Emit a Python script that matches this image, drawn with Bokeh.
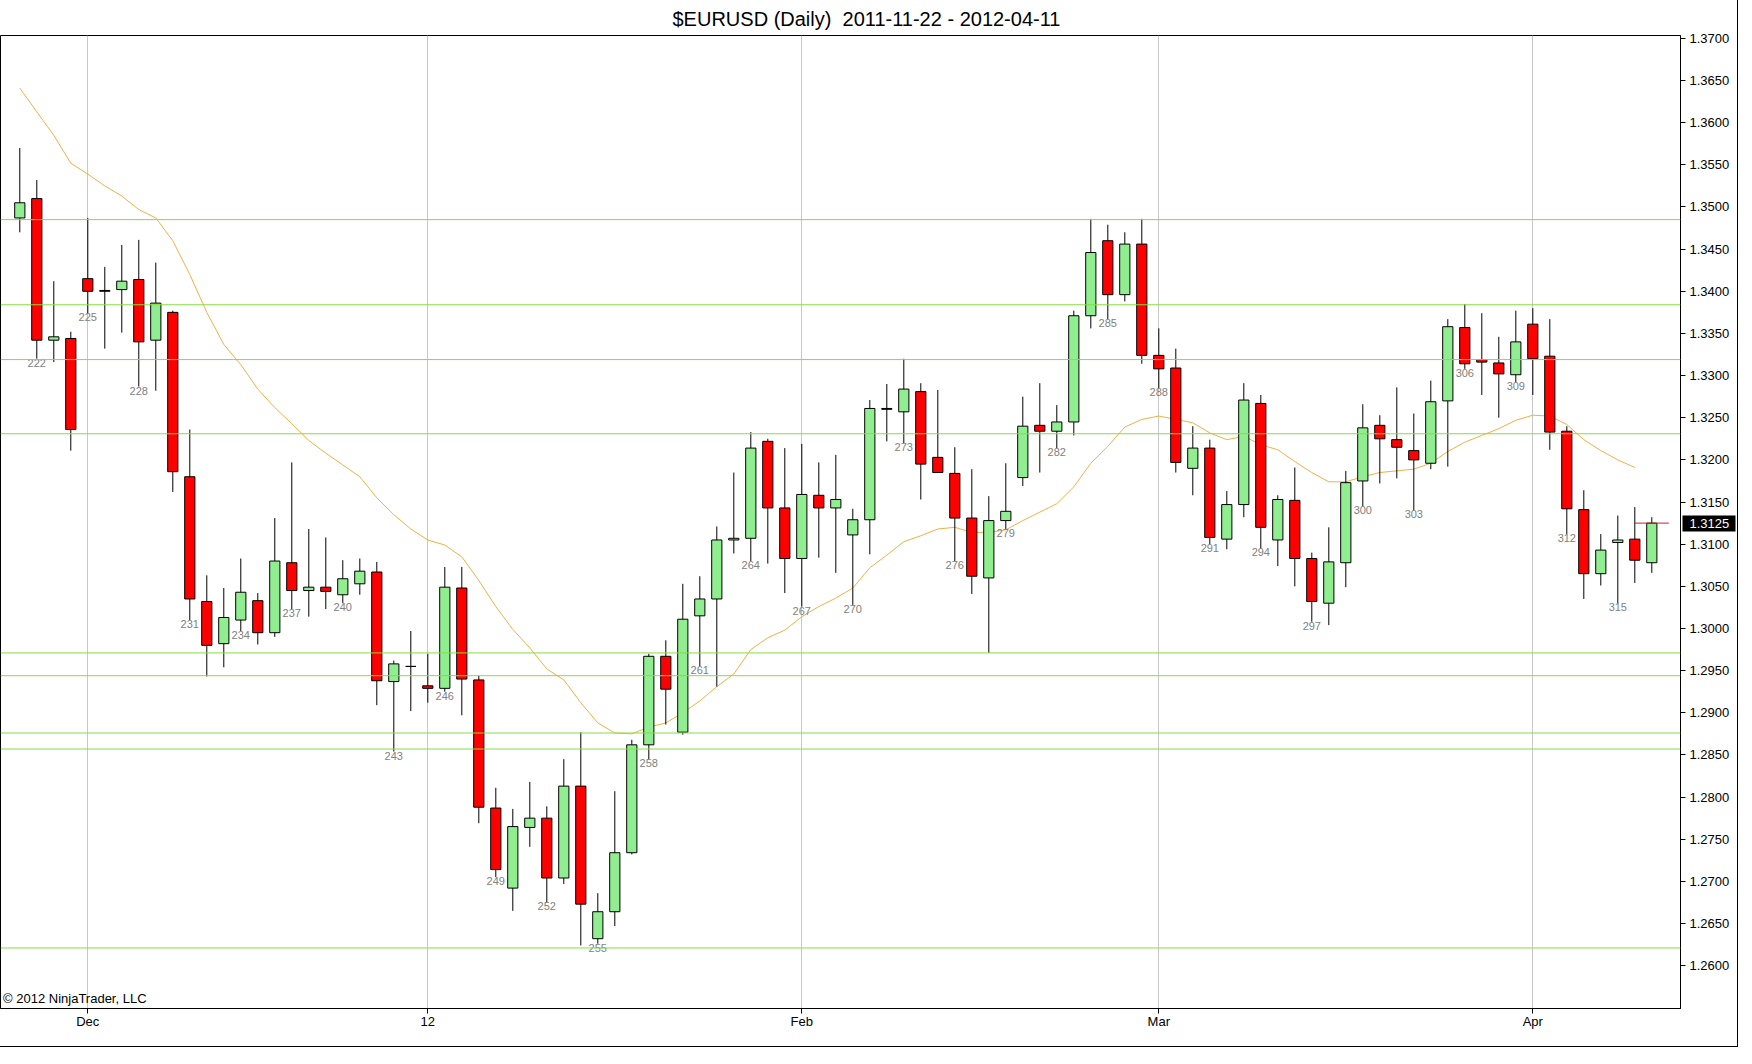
from bokeh.plotting import figure
from bokeh.embed import file_html
from bokeh.resources import INLINE
from bokeh.models import (ColumnDataSource, Range1d, FixedTicker, LinearAxis,
                          PrintfTickFormatter, Label, Span)
from bokeh.core.properties import value

# daily bars, numbered the way the chart numbers them
bar_numbers = list(range(221, 318))

opens = [1.3487, 1.3510, 1.3342, 1.3344, 1.3415, 1.3401, 1.3402, 1.3414, 1.3342, 1.3375,
         1.3180, 1.3032, 1.2982, 1.3010, 1.3033, 1.2995, 1.3078, 1.3045, 1.3049, 1.3040,
         1.3053, 1.3067, 1.2937, 1.2955, 1.2932, 1.2929, 1.3048, 1.2939, 1.2787, 1.2692,
         1.2764, 1.2775, 1.2704, 1.2813, 1.2632, 1.2664, 1.2734, 1.2862, 1.2967, 1.2877,
         1.3015, 1.3035, 1.3105, 1.3107, 1.3222, 1.3143, 1.3083, 1.3158, 1.3143, 1.3111,
         1.3129, 1.3261, 1.3257, 1.3281, 1.3203, 1.3184, 1.3131, 1.3060, 1.3128, 1.3179,
         1.3241, 1.3234, 1.3245, 1.3371, 1.3460, 1.3396, 1.3456, 1.3324, 1.3309, 1.3190,
         1.3214, 1.3106, 1.3147, 1.3267, 1.3105, 1.3152, 1.3083, 1.3030, 1.3078, 1.3175,
         1.3241, 1.3224, 1.3211, 1.3196, 1.3270, 1.3357, 1.3319, 1.3315, 1.3301, 1.3361,
         1.3323, 1.3234, 1.3141, 1.3065, 1.3102, 1.3106, 1.3078]
highs = [1.3570, 1.3532, 1.3412, 1.3352, 1.3487, 1.3429, 1.3455, 1.3461, 1.3434, 1.3377,
         1.3236, 1.3063, 1.3048, 1.3083, 1.3042, 1.3131, 1.3197, 1.3118, 1.3108, 1.3081,
         1.3083, 1.3079, 1.2962, 1.2997, 1.2970, 1.3073, 1.3073, 1.2944, 1.2811, 1.2786,
         1.2818, 1.2789, 1.2845, 1.2877, 1.2686, 1.2807, 1.2868, 1.2970, 1.2986, 1.3053,
         1.3062, 1.3121, 1.3185, 1.3233, 1.3225, 1.3214, 1.3219, 1.3197, 1.3206, 1.3142,
         1.3271, 1.3290, 1.3320, 1.3291, 1.3283, 1.3215, 1.3189, 1.3157, 1.3196, 1.3275,
         1.3291, 1.3265, 1.3377, 1.3486, 1.3479, 1.3470, 1.3486, 1.3356, 1.3332, 1.3240,
         1.3224, 1.3163, 1.3291, 1.3277, 1.3158, 1.3191, 1.3090, 1.3120, 1.3187, 1.3266,
         1.3253, 1.3286, 1.3255, 1.3294, 1.3367, 1.3385, 1.3374, 1.3346, 1.3377, 1.3380,
         1.3367, 1.3240, 1.3164, 1.3112, 1.3134, 1.3144, 1.3132]
lows = [1.3470, 1.3320, 1.3316, 1.3211, 1.3374, 1.3332, 1.3351, 1.3287, 1.3282, 1.3162,
        1.3010, 1.2943, 1.2954, 1.2997, 1.2981, 1.2990, 1.3023, 1.3014, 1.3023, 1.3030,
        1.3040, 1.2909, 1.2854, 1.2902, 1.2912, 1.2925, 1.2897, 1.2769, 1.2705, 1.2665,
        1.2741, 1.2675, 1.2697, 1.2624, 1.2626, 1.2647, 1.2732, 1.2845, 1.2886, 1.2874,
        1.2955, 1.2931, 1.3089, 1.3080, 1.3077, 1.3042, 1.3026, 1.3084, 1.3066, 1.3028,
        1.3088, 1.3222, 1.3220, 1.3153, 1.3185, 1.3080, 1.3041, 1.2971, 1.3118, 1.3169,
        1.3185, 1.3214, 1.3229, 1.3356, 1.3367, 1.3388, 1.3314, 1.3285, 1.3185, 1.3158,
        1.3100, 1.3094, 1.3132, 1.3095, 1.3074, 1.3050, 1.3008, 1.3004, 1.3049, 1.3145,
        1.3172, 1.3178, 1.3140, 1.3189, 1.3192, 1.3308, 1.3277, 1.3250, 1.3292, 1.3277,
        1.3212, 1.3112, 1.3035, 1.3051, 1.3030, 1.3054, 1.3066]
closes = [1.3505, 1.3342, 1.3346, 1.3236, 1.3400, 1.3400, 1.3412, 1.3340, 1.3386, 1.3186,
          1.3035, 1.2980, 1.3013, 1.3043, 1.2995, 1.3080, 1.3045, 1.3049, 1.3044, 1.3059,
          1.3068, 1.2938, 1.2958, 1.2955, 1.2929, 1.3049, 1.2940, 1.2788, 1.2714, 1.2765,
          1.2775, 1.2704, 1.2813, 1.2673, 1.2664, 1.2734, 1.2862, 1.2967, 1.2928, 1.3011,
          1.3035, 1.3105, 1.3107, 1.3214, 1.3143, 1.3083, 1.3159, 1.3143, 1.3153, 1.3129,
          1.3261, 1.3260, 1.3284, 1.3195, 1.3185, 1.3131, 1.3062, 1.3128, 1.3139, 1.3240,
          1.3234, 1.3245, 1.3371, 1.3446, 1.3396, 1.3456, 1.3324, 1.3308, 1.3197, 1.3214,
          1.3108, 1.3147, 1.3271, 1.3120, 1.3153, 1.3083, 1.3032, 1.3079, 1.3173, 1.3238,
          1.3225, 1.3215, 1.3200, 1.3269, 1.3358, 1.3314, 1.3316, 1.3302, 1.3340, 1.3320,
          1.3233, 1.3142, 1.3065, 1.3093, 1.3105, 1.3081, 1.3125]

# moving average, bars 221..316 (not drawn on the last bar)
moving_avg = [1.3641, 1.3613, 1.3585, 1.3552, 1.3539, 1.3525, 1.3513, 1.3497, 1.3487, 1.3460,
              1.3420, 1.3375, 1.3337, 1.3313, 1.3284, 1.3262, 1.3243, 1.3223, 1.3208, 1.3194,
              1.3180, 1.3155, 1.3135, 1.3118, 1.3105, 1.3099, 1.3085, 1.3057, 1.3026, 1.2999,
              1.2977, 1.2952, 1.2939, 1.2912, 1.2888, 1.2876, 1.2875, 1.2883, 1.2888, 1.2900,
              1.2914, 1.2931, 1.2946, 1.2975, 1.2989, 1.2998, 1.3014, 1.3026, 1.3036, 1.3048,
              1.3072, 1.3087, 1.3103, 1.3110, 1.3118, 1.3120, 1.3114, 1.3114, 1.3117, 1.3128,
              1.3138, 1.3148, 1.3168, 1.3196, 1.3216, 1.3239, 1.3248, 1.3252, 1.3248, 1.3244,
              1.3232, 1.3224, 1.3228, 1.3218, 1.3212, 1.3198, 1.3185, 1.3174, 1.3174, 1.3180,
              1.3185, 1.3187, 1.3189, 1.3196, 1.3210, 1.3221, 1.3229, 1.3237, 1.3247, 1.3253,
              1.3252, 1.3242, 1.3224, 1.3211, 1.3200, 1.3191]

# horizontal support / resistance lines
levels = [1.3485, 1.3384, 1.3319, 1.3231, 1.2971, 1.2944, 1.2876, 1.2857, 1.2621]

# first bar of each month and its label
month_bars = [225, 245, 267, 288, 310]
month_labels = ["Dec", "12", "Feb", "Mar", "Apr"]

price_ticks = [1.2600, 1.2650, 1.2700, 1.2750, 1.2800, 1.2850, 1.2900, 1.2950, 1.3000,
               1.3050, 1.3100, 1.3150, 1.3200, 1.3250, 1.3300, 1.3350, 1.3400, 1.3450,
               1.3500, 1.3550, 1.3600, 1.3650, 1.3700]

UP_COLOR = "#90ee90"
DOWN_COLOR = "#ff0000"
LEVEL_COLOR = "#86dd44"
MA_COLOR = "#f0b044"
FONT = "Liberation Sans"


def candle_plot():
    """Daily EURUSD candlesticks with moving average and level lines."""

    x_lo, x_hi = 219.865, 318.688
    y_lo, y_hi = 1.25492, 1.370344

    p = figure(width=1738, height=1047,
               x_range=Range1d(x_lo, x_hi),
               y_range=Range1d(y_lo, y_hi),
               y_axis_location="right",
               output_backend="svg",
               toolbar_location=None,
               tools="",
               min_border_left=0, min_border_right=58,
               min_border_top=35, min_border_bottom=39,
               background_fill_color="white",
               border_fill_color="white",
               styles={"border-right": "1px solid black",
                       "border-bottom": "1px solid black"})

    p.title.text = "$EURUSD (Daily)\u00a0 2011-11-22 - 2012-04-11"
    p.title.text_font = FONT
    p.title.text_font_size = "20px"
    p.title.text_font_style = "normal"
    p.title.text_color = "black"
    p.title.align = "left"
    p.title.offset = 672
    p.title.standoff = 11

    p.outline_line_color = "black"
    p.outline_line_alpha = 1.0

    # price axis
    yax = p.yaxis[0]
    yax.ticker = FixedTicker(ticks=price_ticks)
    yax.formatter = PrintfTickFormatter(format="%.4f")
    yax.major_tick_out = 5
    yax.major_tick_in = 0
    yax.minor_tick_out = 0
    yax.minor_tick_in = 0
    yax.major_label_standoff = 4
    yax.major_label_text_font = FONT
    yax.major_label_text_font_size = "13px"
    yax.major_label_text_color = "black"
    yax.axis_line_color = "black"

    # month axis
    xax = p.xaxis[0]
    xax.ticker = FixedTicker(ticks=month_bars)
    xax.major_label_overrides = dict(zip(month_bars, month_labels))
    xax.major_tick_out = 5
    xax.major_tick_in = 0
    xax.minor_tick_out = 0
    xax.minor_tick_in = 0
    xax.major_label_standoff = 0
    xax.major_label_text_font = FONT
    xax.major_label_text_font_size = "13px"
    xax.major_label_text_color = "black"
    xax.axis_line_color = "black"

    p.xgrid.ticker = FixedTicker(ticks=month_bars)
    p.xgrid.grid_line_color = "#c8c8c8"
    p.ygrid.grid_line_color = None

    for lvl in levels:
        p.add_layout(Span(location=lvl, dimension="width",
                          line_color=LEVEL_COLOR, line_width=1))

    p.line(bar_numbers[:len(moving_avg)], moving_avg,
           line_color=MA_COLOR, line_width=1)

    source = ColumnDataSource(data=dict(
        x=bar_numbers,
        high=highs,
        low=lows,
        top=[max(o, c) for o, c in zip(opens, closes)],
        bottom=[min(o, c) for o, c in zip(opens, closes)],
        color=[UP_COLOR if c >= o else DOWN_COLOR for o, c in zip(opens, closes)],
    ))

    p.segment(x0="x", y0="high", x1="x", y1="low", source=source,
              line_color="black", line_width=1)
    p.vbar(x="x", width=0.6, top="top", bottom="bottom", source=source,
           fill_color="color", line_color="black", line_width=1)

    # bar numbers under every third bar
    label_idx = [i for i, n in enumerate(bar_numbers) if (n - 222) % 3 == 0 and n <= 315]
    p.text(x=[bar_numbers[i] for i in label_idx],
           y=[lows[i] for i in label_idx],
           text=[str(bar_numbers[i]) for i in label_idx],
           text_align="center", text_baseline="top",
           text_font=value(FONT), text_font_size="11px",
           text_color="#808080")

    # last close: short red line plus a black tag on the price axis
    last = closes[-1]
    p.segment(x0=[bar_numbers[-2]], x1=[bar_numbers[-1] + 1],
              y0=[last], y1=[last], line_color="#cc2020", line_width=1)

    # second axis stacked after the price axis; its tick reaches back
    # over the price axis to form the tag, its label sits inside it
    tag = LinearAxis(ticker=FixedTicker(ticks=[last]),
                     formatter=PrintfTickFormatter(format="%.4f"))
    tag.axis_line_color = None
    tag.minor_tick_line_color = None
    tag.major_tick_in = 50
    tag.major_tick_out = 3
    tag.major_tick_line_width = 16
    tag.major_tick_line_color = "black"
    tag.major_tick_line_cap = "butt"
    tag.major_label_standoff = -46
    tag.major_label_text_font = FONT
    tag.major_label_text_font_size = "13px"
    tag.major_label_text_color = "white"
    p.add_layout(tag, "right")

    p.add_layout(Label(x=x_lo + 0.15, y=y_lo + 0.00025,
                       text="\u00a9 2012 NinjaTrader, LLC",
                       text_align="left", text_baseline="bottom",
                       text_font=FONT, text_font_size="13px",
                       text_color="black"))

    return p


p = candle_plot()
open("out.html", "w").write(file_html(p, INLINE))
